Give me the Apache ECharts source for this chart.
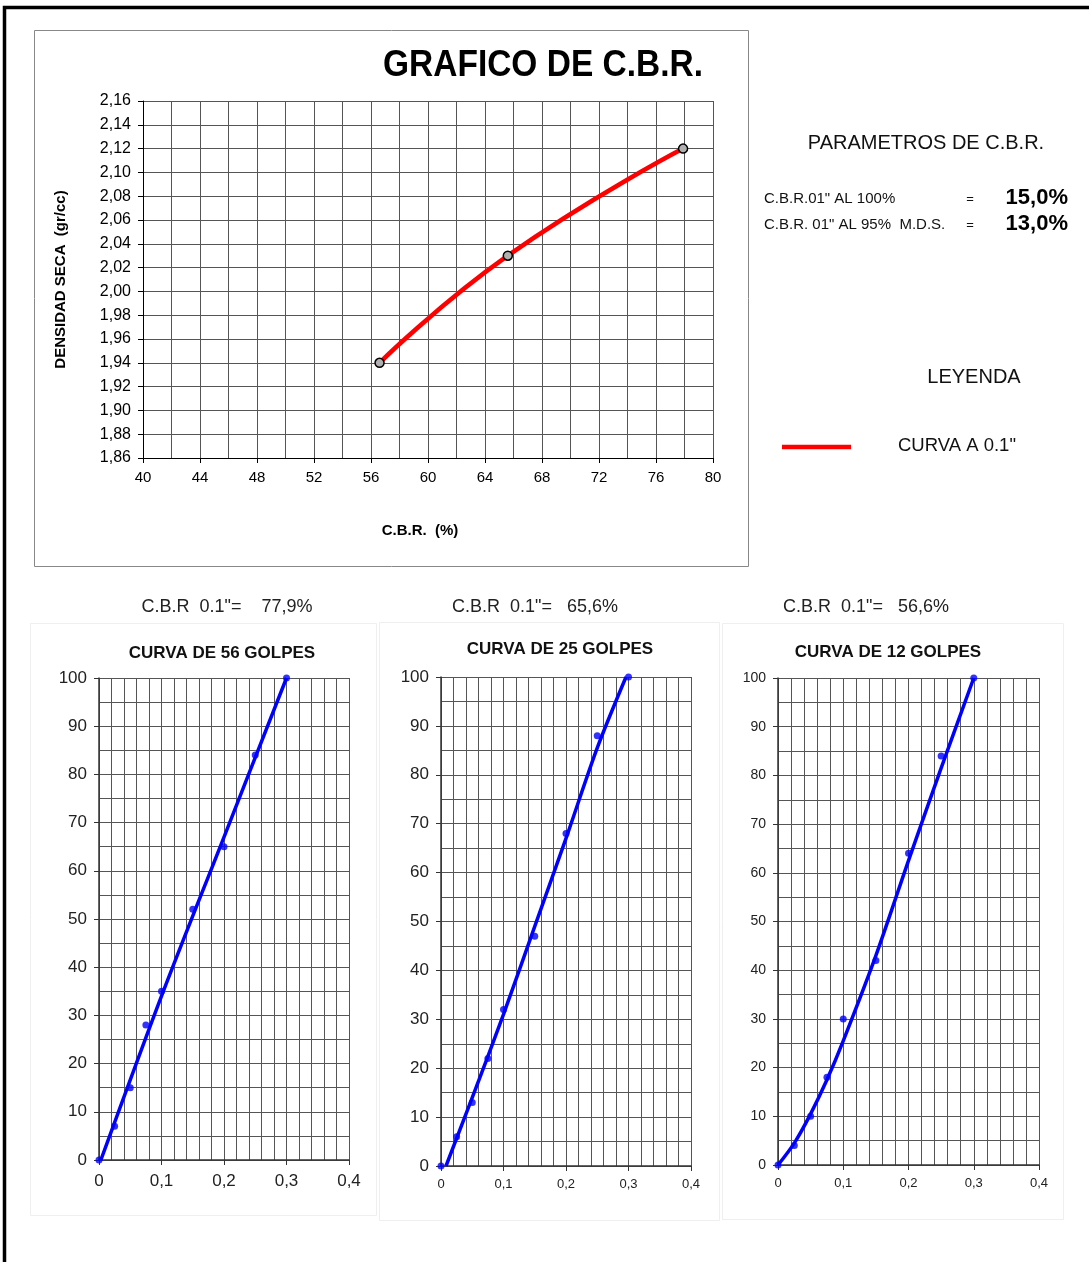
<!DOCTYPE html>
<html>
<head>
<meta charset="utf-8">
<script src="https://cdn.jsdelivr.net/npm/echarts@6/dist/echarts.min.js"></script>
<style>
  html, body { margin: 0; padding: 0; background: #ffffff; }
  #chart { width: 1089px; height: 1262px; }
</style>
</head>
<body>
<div id="chart"></div>
<script>
// Dry density vs C.B.R. at 0.1" penetration
const cbrAt01 = [56.6, 65.6, 77.9];
const dryDensity = [1.94, 2.03, 2.12];

// Parameters
const cbr100 = 15.0;
const cbr95 = 13.0;

// Load-penetration tests (one per compaction energy)
const blowCounts = [56, 25, 12];
const cbrPerTest = [77.9, 65.6, 56.6];
const penetration = [0, 0.025, 0.05, 0.075, 0.1, 0.15, 0.2, 0.25, 0.3];
const load56 = [0, 7, 15, 28, 35, 52, 65, 84, 100];
const load25 = [0, 6, 13, 22, 32, 47, 68, 88, 100];
const load12 = [0, 4, 10, 18, 30, 42, 64, 84, 100];

// Fitted curves through the test points
const fitX56 = [0.003, 0.1, 0.2, 0.3];
const fitY56 = [0, 34, 67, 100];
const fitX25 = [0.008, 0.05, 0.1, 0.15, 0.2, 0.25, 0.296];
const fitY25 = [0, 14, 31, 49, 67, 85.5, 100];
const fitX12 = [0, 0.025, 0.05, 0.075, 0.1, 0.15, 0.2, 0.25, 0.3];
const fitY12 = [0, 4.5, 10.5, 17.5, 25.5, 43, 62.5, 81.5, 100];

const NARROW = "'Liberation Sans Narrow', 'Arial Narrow', 'Liberation Sans', Arial, sans-serif";
const SANS = "'Liberation Sans', Arial, sans-serif";
const comma = (v, d) => v.toFixed(d).replace('.', ',');
const pairs = (xs, ys) => xs.map((x, i) => [x, ys[i]]);

const gridColor = '#555555';

const smallCharts = [
  { left: 99,  top: 678, width: 250, height: 482, load: load56, fx: fitX56, fy: fitY56, yFont: 17, xFont: 17, xMargin: 13 },
  { left: 441, top: 677, width: 250, height: 489, load: load25, fx: fitX25, fy: fitY25, yFont: 17, xFont: 13, xMargin: 12 },
  { left: 778, top: 678, width: 261, height: 487, load: load12, fx: fitX12, fy: fitY12, yFont: 14, xFont: 13, xMargin: 12 }
];
const headerCenters = [227, 535, 866];
const titleCenters = [222, 560, 888];
const titleY = [653, 649, 652];

const grids = [{ left: 143, top: 101, width: 570, height: 357 }];
const xAxes = [{
  gridIndex: 0, type: 'value', min: 40, max: 80, interval: 4,
  axisLine: { lineStyle: { color: '#000', width: 1 } },
  axisTick: { show: true, length: 5, lineStyle: { color: '#000' } },
  axisLabel: { fontFamily: NARROW, fontSize: 15, color: '#000', margin: 12 },
  splitLine: { show: true, lineStyle: { color: gridColor, width: 1 } },
  minorTick: { show: false, splitNumber: 2 },
  minorSplitLine: { show: true, lineStyle: { color: gridColor, width: 1 } }
}];
const yAxes = [{
  gridIndex: 0, type: 'value', min: 1.86, max: 2.16, interval: 0.02,
  name: 'DENSIDAD SECA  (gr/cc)', nameLocation: 'middle', nameGap: 75, nameRotate: 90,
  nameTextStyle: { fontFamily: SANS, fontWeight: 'bold', fontSize: 15, color: '#000' },
  axisLine: { show: true, lineStyle: { color: '#000', width: 1 } },
  axisTick: { show: true, length: 5, lineStyle: { color: '#000' } },
  axisLabel: { fontFamily: NARROW, fontSize: 16, color: '#000', margin: 12, formatter: v => comma(v, 2) },
  splitLine: { show: true, lineStyle: { color: gridColor, width: 1 } }
}];
const series = [{
  type: 'line', xAxisIndex: 0, yAxisIndex: 0,
  data: pairs(cbrAt01, dryDensity),
  smooth: 0.5,
  lineStyle: { color: '#ff0000', width: 4.5 },
  symbol: 'circle', symbolSize: 9,
  itemStyle: { color: '#b0b0b0', borderColor: '#000', borderWidth: 1.5 },
  z: 5
}];

smallCharts.forEach((c, i) => {
  const gi = i + 1;
  grids.push({ left: c.left, top: c.top, width: c.width, height: c.height });
  xAxes.push({
    gridIndex: gi, type: 'value', min: 0, max: 0.4, interval: 0.1,
    axisLine: { lineStyle: { color: '#333', width: 1.5 } },
    axisTick: { show: true, length: 5, lineStyle: { color: '#333' } },
    axisLabel: { fontFamily: SANS, fontSize: c.xFont, color: '#222', margin: c.xMargin, formatter: v => v === 0 ? '0' : comma(v, 1) },
    splitLine: { show: true, lineStyle: { color: gridColor, width: 1 } },
    minorTick: { show: false, splitNumber: 5 },
    minorSplitLine: { show: true, lineStyle: { color: gridColor, width: 1 } }
  });
  yAxes.push({
    gridIndex: gi, type: 'value', min: 0, max: 100, interval: 10,
    axisLine: { show: true, lineStyle: { color: '#333', width: 1.5 } },
    axisTick: { show: true, length: 5, lineStyle: { color: '#333' } },
    axisLabel: { fontFamily: SANS, fontSize: c.yFont, color: '#222', margin: 12 },
    splitLine: { show: true, lineStyle: { color: gridColor, width: 1 } },
    minorTick: { show: false, splitNumber: 2 },
    minorSplitLine: { show: true, lineStyle: { color: gridColor, width: 1 } }
  });
  series.push({
    type: 'line', xAxisIndex: gi, yAxisIndex: gi,
    data: pairs(c.fx, c.fy), smooth: 0.3, showSymbol: false,
    lineStyle: { color: '#0000ff', width: 3.5 }, z: 4
  });
  series.push({
    type: 'scatter', xAxisIndex: gi, yAxisIndex: gi,
    data: pairs(penetration, c.load), symbolSize: 7,
    itemStyle: { color: '#0000ff' }, z: 5
  });
});

const text = (x, y, str, size, opts, extra) => Object.assign({
  type: 'text', z: 10,
  style: Object.assign({
    x: x, y: y, text: str, fontSize: size, fontFamily: SANS, fill: '#000',
    textAlign: 'left', textVerticalAlign: 'middle'
  }, opts || {})
}, extra || {});

const graphics = [
  // outer frame
  { type: 'polyline', z: 1, shape: { points: [[4.5, 1262], [4.5, 7.5], [1089, 7.5]] },
    style: { stroke: '#000', lineWidth: 3.5, fill: null } },
  // main chart box
  { type: 'rect', z: 0, shape: { x: 34.5, y: 30.5, width: 714, height: 536 },
    style: { stroke: '#888', lineWidth: 1, fill: '#fff' } },
  // panels of the small charts
  { type: 'rect', z: 0, shape: { x: 30.5, y: 623.5, width: 346, height: 592 },
    style: { stroke: '#efefef', lineWidth: 1, fill: '#fff' } },
  { type: 'rect', z: 0, shape: { x: 379.5, y: 622.5, width: 340, height: 598 },
    style: { stroke: '#efefef', lineWidth: 1, fill: '#fff' } },
  { type: 'rect', z: 0, shape: { x: 722.5, y: 623.5, width: 341, height: 596 },
    style: { stroke: '#efefef', lineWidth: 1, fill: '#fff' } },
  text(0, 0, 'GRAFICO DE C.B.R.', 36, { fontWeight: 'bold', textAlign: 'center' },
    { x: 543, y: 66, scaleX: 0.93 }),
  text(420, 531, 'C.B.R.  (%)', 15, { fontWeight: 'bold', textAlign: 'center' }),
  text(926, 143, 'PARAMETROS DE C.B.R.', 20, { textAlign: 'center', fill: '#111' }),
  text(764, 199, 'C.B.R.01" AL 100%', 15, { fontFamily: NARROW, fill: '#111' }),
  text(764, 225, 'C.B.R. 01" AL 95%  M.D.S.', 15, { fontFamily: NARROW, fill: '#111' }),
  text(970, 199, '=', 13, { textAlign: 'center', fill: '#111' }),
  text(970, 225, '=', 13, { textAlign: 'center', fill: '#111' }),
  text(1068, 198, comma(cbr100, 1) + '%', 22, { fontWeight: 'bold', textAlign: 'right' }),
  text(1068, 224, comma(cbr95, 1) + '%', 22, { fontWeight: 'bold', textAlign: 'right' }),
  text(974, 377, 'LEYENDA', 20, { textAlign: 'center', fill: '#111' }),
  { type: 'line', z: 10, shape: { x1: 782, y1: 447, x2: 851, y2: 447 },
    style: { stroke: '#ff0000', lineWidth: 4.5 } },
  text(898, 446, 'CURVA A 0.1"', 18.5, { fill: '#111' })
];
blowCounts.forEach((b, i) => {
  const gap = i === 0 ? '    ' : '   ';
  graphics.push(text(headerCenters[i], 607, 'C.B.R  0.1"=' + gap + comma(cbrPerTest[i], 1) + '%', 18,
    { textAlign: 'center', fill: '#222' }));
  graphics.push(text(titleCenters[i], titleY[i], 'CURVA DE ' + b + ' GOLPES', 17,
    { textAlign: 'center', fontWeight: 'bold', fill: '#111' }));
});

const chart = echarts.init(document.getElementById('chart'), null, { renderer: 'canvas' });
chart.setOption({
  backgroundColor: '#ffffff',
  animation: false,
  grid: grids,
  xAxis: xAxes,
  yAxis: yAxes,
  series: series,
  graphic: graphics
});
</script>
</body>
</html>
